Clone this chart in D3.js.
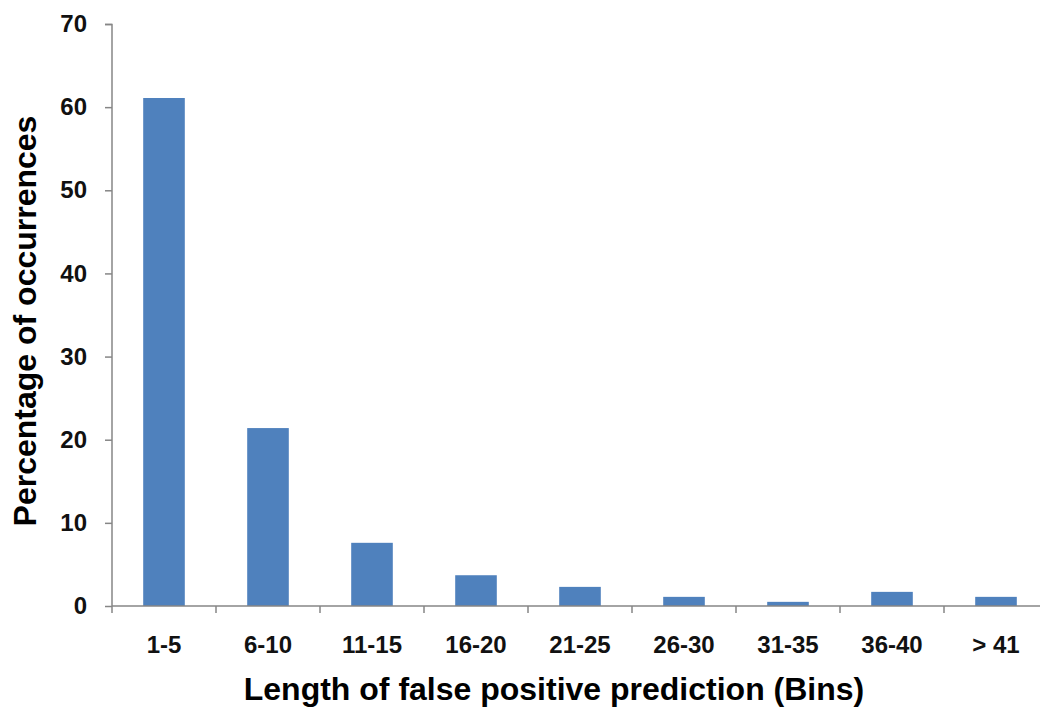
<!DOCTYPE html>
<html>
<head>
<meta charset="utf-8">
<script src="https://cdn.jsdelivr.net/npm/d3@7"></script>
<style>
body { margin: 0; background: #fff; }
svg { display: block; }
</style>
</head>
<body>
<svg id="drawing_region"></svg>
<script>
// bin labels and percentages
const bins = ['1-5', '6-10', '11-15', '16-20', '21-25', '26-30', '31-35', '36-40', '> 41'];
const percents = [61.1, 21.4, 7.6, 3.7, 2.3, 1.1, 0.5, 1.7, 1.1];
const yTicks = [0, 10, 20, 30, 40, 50, 60, 70];

const data = bins.map((b, i) => ({ bin: b, value: percents[i] }));

const width = 1040, height = 708;
const margin = { top: 24, right: -8, bottom: 102, left: 112 };
const inner_width = width - margin.left - margin.right;
const inner_height = height - margin.top - margin.bottom;
const axisColor = '#868686';
const font = '"Liberation Sans", Arial, sans-serif';

const svg = d3.select('#drawing_region')
  .attr('width', width)
  .attr('height', height);

const chart = svg.append('g')
  .attr('transform', `translate(${margin.left}, ${margin.top})`);

const xscale = d3.scaleBand()
  .domain(bins)
  .range([0, inner_width])
  .paddingInner(0.6)
  .paddingOuter(0.3);

// same bands without padding, for the tick marks between categories
const xcell = d3.scaleBand()
  .domain(bins)
  .range([0, inner_width]);

const yscale = d3.scaleLinear()
  .domain([0, 70])
  .range([inner_height, 0]);

// bars
chart.selectAll('rect')
  .data(data)
  .enter()
  .append('rect')
  .attr('x', d => xscale(d.bin))
  .attr('y', d => yscale(d.value))
  .attr('width', xscale.bandwidth())
  .attr('height', d => inner_height - yscale(d.value))
  .attr('fill', '#4f81bd');

// y axis
const yaxis = d3.axisLeft(yscale)
  .tickValues(yTicks)
  .tickSize(7)
  .tickPadding(18)
  .tickFormat(d3.format('d'));

const yaxis_group = chart.append('g').call(yaxis);
yaxis_group.select('.domain').attr('stroke', axisColor).attr('stroke-width', 1.5)
  .attr('d', `M-7,0.5H0V${inner_height}`);
yaxis_group.selectAll('.tick line').attr('stroke', axisColor).attr('stroke-width', 1.5);
yaxis_group.selectAll('.tick text')
  .attr('font-family', font)
  .attr('font-weight', 'bold')
  .attr('font-size', 24)
  .attr('fill', '#111');

// x axis: line plus ticks at band boundaries
const xaxis_group = chart.append('g')
  .attr('transform', `translate(0, ${inner_height})`);

xaxis_group.append('line')
  .attr('x1', 0).attr('x2', inner_width)
  .attr('y1', 0).attr('y2', 0)
  .attr('stroke', axisColor).attr('stroke-width', 1.5);

const bounds = bins.map(b => xcell(b)).concat([inner_width]);
xaxis_group.selectAll('.bound')
  .data(bounds)
  .enter()
  .append('line')
  .attr('class', 'bound')
  .attr('x1', d => d).attr('x2', d => d)
  .attr('y1', 0).attr('y2', 7)
  .attr('stroke', axisColor).attr('stroke-width', 1.5);

xaxis_group.selectAll('.xlabel')
  .data(bins)
  .enter()
  .append('text')
  .attr('class', 'xlabel')
  .attr('x', d => xscale(d) + xscale.bandwidth() / 2)
  .attr('y', 47)
  .attr('text-anchor', 'middle')
  .attr('font-family', font)
  .attr('font-weight', 'bold')
  .attr('font-size', 24)
  .attr('fill', '#111')
  .text(d => d);

// axis titles
svg.append('text')
  .attr('x', 554)
  .attr('y', 700)
  .attr('text-anchor', 'middle')
  .attr('font-family', font)
  .attr('font-weight', 'bold')
  .attr('font-size', 32)
  .attr('fill', '#000')
  .text('Length of false positive prediction (Bins)');

svg.append('text')
  .attr('transform', 'translate(36, 321) rotate(-90)')
  .attr('text-anchor', 'middle')
  .attr('font-family', font)
  .attr('font-weight', 'bold')
  .attr('font-size', 32)
  .attr('fill', '#000')
  .text('Percentage of occurrences');
</script>
</body>
</html>
